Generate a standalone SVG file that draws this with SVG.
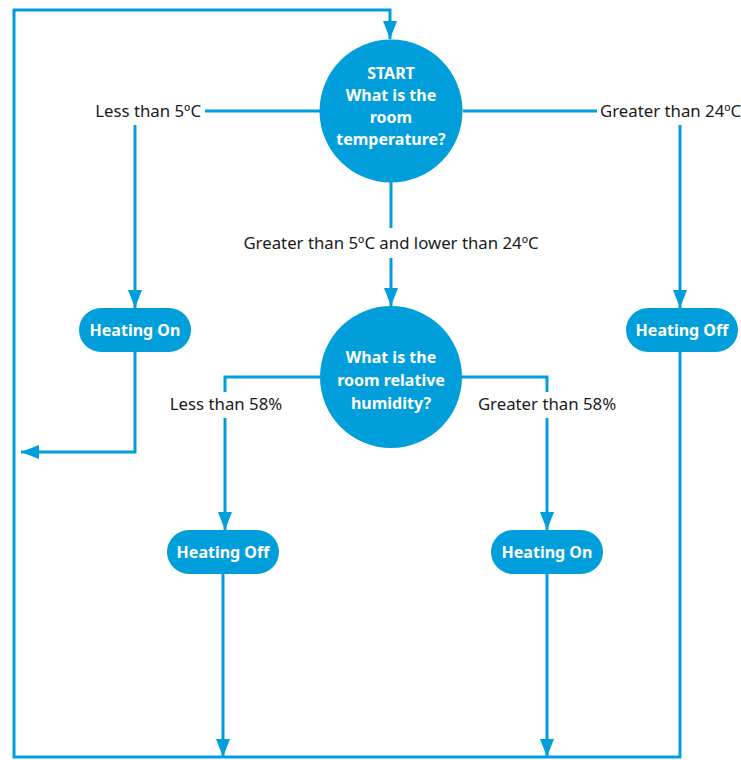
<svg xmlns="http://www.w3.org/2000/svg" width="741" height="760" viewBox="0 0 741 760">
<style>
.ln{fill:none;stroke:#009FDB;stroke-width:3;}
.nd{fill:#009FDB;}
.nt{font-family:"Noto Sans",sans-serif;font-weight:bold;font-size:16px;fill:#ffffff;text-anchor:middle;}
.lb{font-family:"Noto Sans",sans-serif;font-size:16.8px;fill:#1a1a1a;}
</style>
<defs>
<marker id="ar" markerUnits="userSpaceOnUse" markerWidth="18" markerHeight="14" refX="18" refY="7" orient="auto">
<path d="M0,0 L18,7 L0,14 z" fill="#009FDB"/>
</marker>
</defs>
<rect width="741" height="760" fill="#ffffff"/>
<g id="connectors">
<path class="ln" d="M680,352 L680,757 L14,757 L14,10 L390,10 L390,39" marker-end="url(#ar)"/>
<path class="ln" d="M320,111 L205,111"/>
<path class="ln" d="M135,125 L135,308" marker-end="url(#ar)"/>
<path class="ln" d="M135,352 L135,452 L21,452" marker-end="url(#ar)"/>
<path class="ln" d="M463,111 L597,111"/>
<path class="ln" d="M680,125 L680,308" marker-end="url(#ar)"/>
<path class="ln" d="M391,182 L391,228"/>
<path class="ln" d="M391,258 L391,306" marker-end="url(#ar)"/>
<path class="ln" d="M320,377 L225,377 L225,392"/>
<path class="ln" d="M225,418 L225,530" marker-end="url(#ar)"/>
<path class="ln" d="M462,377 L547,377 L547,392"/>
<path class="ln" d="M547,418 L547,530" marker-end="url(#ar)"/>
<path class="ln" d="M223,574 L223,757" marker-end="url(#ar)"/>
<path class="ln" d="M547,574 L547,757" marker-end="url(#ar)"/>
</g>
<g id="labels">
<text class="lb" x="201" y="117" text-anchor="end">Less than 5ºC</text>
<text class="lb" x="600" y="117">Greater than 24ºC</text>
<text class="lb" x="391" y="249" text-anchor="middle">Greater than 5ºC and lower than 24ºC</text>
<text class="lb" x="226" y="410" text-anchor="middle">Less than 58%</text>
<text class="lb" x="547" y="410" text-anchor="middle">Greater than 58%</text>
</g>
<g id="start">
<circle class="nd" cx="391" cy="111" r="71.5"/>
<text class="nt" x="391" y="79">START</text>
<text class="nt" x="391" y="101">What is the</text>
<text class="nt" x="391" y="123">room</text>
<text class="nt" x="391" y="145">temperature?</text>
</g>
<g id="humidity">
<circle class="nd" cx="391" cy="377" r="71"/>
<text class="nt" x="391" y="363">What is the</text>
<text class="nt" x="391" y="386">room relative</text>
<text class="nt" x="391" y="409">humidity?</text>
</g>
<g id="heating-on-left">
<rect class="nd" x="79" y="308" width="112" height="44" rx="22"/>
<text class="nt" x="135" y="336">Heating On</text>
</g>
<g id="heating-off-right">
<rect class="nd" x="626" y="308" width="112" height="44" rx="22"/>
<text class="nt" x="682" y="336">Heating Off</text>
</g>
<g id="heating-off-mid">
<rect class="nd" x="167" y="530" width="112" height="44" rx="22"/>
<text class="nt" x="223" y="558">Heating Off</text>
</g>
<g id="heating-on-mid">
<rect class="nd" x="491" y="530" width="112" height="44" rx="22"/>
<text class="nt" x="547" y="558">Heating On</text>
</g>
</svg>
